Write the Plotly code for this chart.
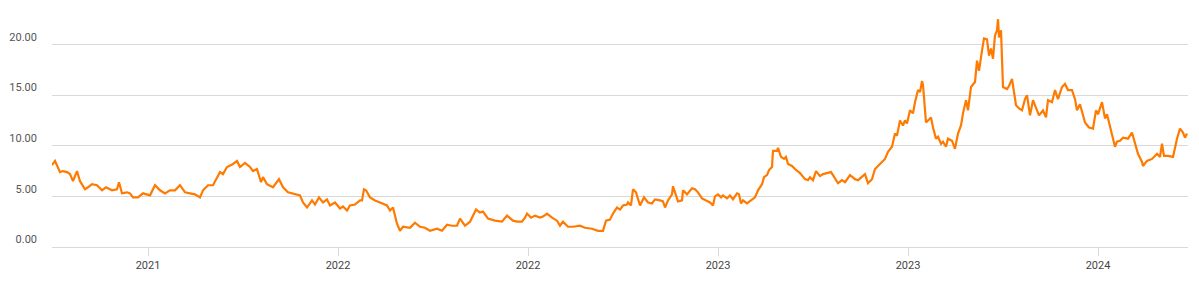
import pandas as pd
import plotly.graph_objects as go

start_date = "2021-06-27"
end_offset = 1136

day_offsets = [
    0, 3, 8, 11, 15, 18, 21, 25, 28, 33, 36, 40, 45, 50, 54, 60, 65, 67, 70, 75,
    78, 81, 86, 91, 98, 103, 108, 113, 118, 123, 128, 133, 138, 143, 148, 151, 156, 161, 168, 171,
    175, 181, 185, 188, 193, 198, 201, 205, 209, 211, 215, 221, 227, 231, 236, 241, 248, 251, 255, 260,
    263, 267, 271, 275, 278, 283, 288, 291, 295, 298, 303, 308, 310, 312, 314, 318, 323, 328, 335, 338,
    341, 345, 348, 351, 358, 363, 368, 373, 378, 385, 390, 395, 400, 405, 408, 413, 418, 424, 428, 431,
    436, 443, 450, 455, 461, 465, 470, 473, 475, 479, 483, 488, 491, 495, 500, 505, 508, 511, 516, 521,
    528, 533, 540, 546, 551, 554, 558, 561, 565, 568, 571, 575, 576, 579, 581, 584, 588, 592, 596, 600,
    603, 608, 611, 613, 616, 620, 621, 624, 626, 630, 631, 635, 640, 643, 646, 650, 655, 658, 661, 663,
    666, 669, 671, 675, 678, 681, 685, 687, 689, 691, 695, 700, 703, 706, 710, 712, 715, 717, 720, 721,
    725, 726, 729, 732, 734, 736, 740, 743, 748, 753, 756, 758, 761, 764, 768, 771, 776, 779, 781, 786,
    790, 793, 798, 803, 806, 810, 813, 816, 820, 823, 828, 833, 836,
    840, 843, 845, 848, 851, 853, 855, 858, 861, 863,
    866, 868, 870, 871, 874, 876, 879, 881, 884, 886,
    889, 891, 894, 896, 900, 903, 906, 909, 911, 914,
    916, 919, 923, 925, 927, 930, 932, 935, 937, 939,
    941, 943, 945, 946, 947, 949, 951, 955, 957, 960,
    962, 964, 967,
    970, 973, 975, 978, 981, 985, 987, 991, 994, 996, 1000, 1003, 1006, 1010, 1013, 1016, 1020, 1023,
    1025, 1028, 1031, 1033, 1037, 1041, 1044, 1046, 1050, 1053, 1055, 1058, 1061, 1063, 1065, 1068, 1071, 1076, 1080, 1083,
    1086, 1090, 1091, 1095, 1100, 1105, 1108, 1110, 1112, 1116, 1121, 1125, 1128, 1131, 1133, 1135,
]

values = [
    8.1, 8.5, 7.4, 7.5, 7.4, 7.2, 6.5, 7.5, 6.5, 5.7, 5.9, 6.2, 6.1, 5.6, 5.9, 5.6, 5.7, 6.4, 5.3, 5.4,
    5.3, 4.9, 4.9, 5.3, 5.1, 6.1, 5.6, 5.3, 5.6, 5.6, 6.1, 5.4, 5.3, 5.2, 4.9, 5.6, 6.1, 6.1, 7.4, 7.2,
    7.9, 8.2, 8.5, 7.9, 8.3, 7.9, 7.5, 7.7, 6.4, 6.9, 6.2, 5.9, 6.7, 5.9, 5.4, 5.3, 5.1, 4.4, 3.9, 4.6,
    4.2, 4.9, 4.4, 4.7, 4.1, 4.4, 3.8, 4.0, 3.6, 4.1, 4.2, 4.6, 4.6, 5.7, 5.6, 4.9, 4.6, 4.4, 4.1, 3.6,
    3.9, 2.3, 1.6, 2.0, 1.9, 2.4, 2.0, 1.9, 1.6, 1.8, 1.6, 2.2, 2.1, 2.1, 2.8, 2.1, 2.5, 3.7, 3.4, 3.5,
    2.8, 2.6, 2.5, 3.1, 2.6, 2.5, 2.5, 2.9, 3.3, 2.9, 3.1, 2.9, 3.0, 3.3, 2.9, 2.6, 2.1, 2.5, 2.0, 2.0,
    2.1, 1.9, 1.8, 1.6, 1.6, 2.6, 2.7, 3.3, 3.9, 3.7, 4.1, 4.2, 4.4, 4.1, 5.7, 5.4, 4.1, 4.9, 4.4, 4.3,
    4.7, 4.6, 4.5, 3.9, 4.6, 5.2, 6.0, 5.1, 4.5, 4.6, 5.6, 5.2, 5.8, 5.7, 5.4, 4.8, 4.5, 4.4, 4.1, 5.0,
    5.2, 4.9, 5.1, 4.8, 5.1, 4.7, 5.3, 5.2, 4.3, 4.6, 4.3, 4.7, 4.9, 5.6, 6.2, 6.9, 7.1, 7.6, 7.9, 9.5,
    9.5, 9.8, 8.9, 8.7, 8.9, 8.2, 8.0, 7.7, 7.3, 6.7, 6.6, 6.9, 6.6, 7.5, 7.0, 7.2, 7.3, 7.4, 7.1, 6.3,
    6.6, 6.4, 7.1, 6.7, 6.6, 7.0, 7.2, 6.3, 6.7, 7.7, 8.2, 8.7, 9.4,
    9.9, 11.2, 11.0, 12.5, 12.0, 12.5, 12.2, 13.5, 13.2, 14.3,
    15.5, 15.3, 16.4, 16.0, 12.3, 12.5, 12.8, 11.8, 10.7, 10.9,
    10.2, 10.4, 9.9, 10.7, 10.5, 9.7, 11.2, 12.0, 13.2, 14.5,
    13.5, 15.8, 16.3, 18.4, 17.4, 19.4, 20.6, 20.5, 18.9, 19.6,
    18.6, 20.9, 21.4, 22.5, 20.7, 21.4, 15.8, 15.6, 15.9, 16.6,
    15.3, 14.0, 13.7,
    13.5, 14.6, 15.0, 13.0, 14.5, 13.5, 13.0, 13.5, 12.8, 14.5, 14.3, 15.5, 14.6, 15.8, 16.1, 15.5, 15.5, 14.6,
    13.5, 14.1, 13.1, 12.3, 11.8, 11.7, 13.5, 13.1, 14.3, 12.7, 13.1, 12.0, 10.8, 9.9, 10.4, 10.5, 10.8, 10.7, 11.3, 10.2,
    9.2, 8.4, 8.0, 8.5, 8.7, 9.2, 8.9, 10.2, 9.0, 9.0, 8.9, 10.7, 11.7, 11.3, 10.8, 11.2,
]

tick_dates = ["2021-10-01", "2022-04-09", "2022-10-16", "2023-04-24", "2023-10-31", "2024-05-08"]
tick_labels = ["2021", "2022", "2022", "2023", "2023", "2024"]
y_ticks = [0, 5, 10, 15, 20]
y_tick_labels = ["0.00", "5.00", "10.00", "15.00", "20.00"]

base = pd.Timestamp(start_date)
dates = base + pd.to_timedelta(day_offsets, unit="D")
x_end = base + pd.Timedelta(days=end_offset)

fig = go.Figure()
fig.add_trace(go.Scatter(
    x=dates, y=values, mode="lines",
    line=dict(color="#ff7a00", width=2.2),
    hoverinfo="x+y",
))

fig.update_layout(
    width=1199, height=288,
    margin=dict(l=52, r=11, t=4, b=41),
    paper_bgcolor="white", plot_bgcolor="white",
    showlegend=False,
    font=dict(family="Roboto, Arial, sans-serif", size=11, color="#555555"),
)
fig.update_xaxes(
    type="date",
    range=[base, x_end],
    tickvals=pd.to_datetime(tick_dates), ticktext=tick_labels,
    showgrid=False, zeroline=False,
    showline=True, linecolor="#d9d9d9", linewidth=1,
    ticks="outside", ticklen=8, tickcolor="#d9d9d9",
    tickfont=dict(size=11, color="#444444"),
)
fig.update_yaxes(
    range=[0, 24],
    tickvals=y_ticks, ticktext=y_tick_labels,
    showgrid=True, gridcolor="#d9d9d9", gridwidth=1,
    zeroline=False, showline=False,
    ticks="", ticklabelposition="outside top", ticklabelstandoff=14,
    tickfont=dict(size=11, color="#555555"),
)

fig.write_html("out.html")
